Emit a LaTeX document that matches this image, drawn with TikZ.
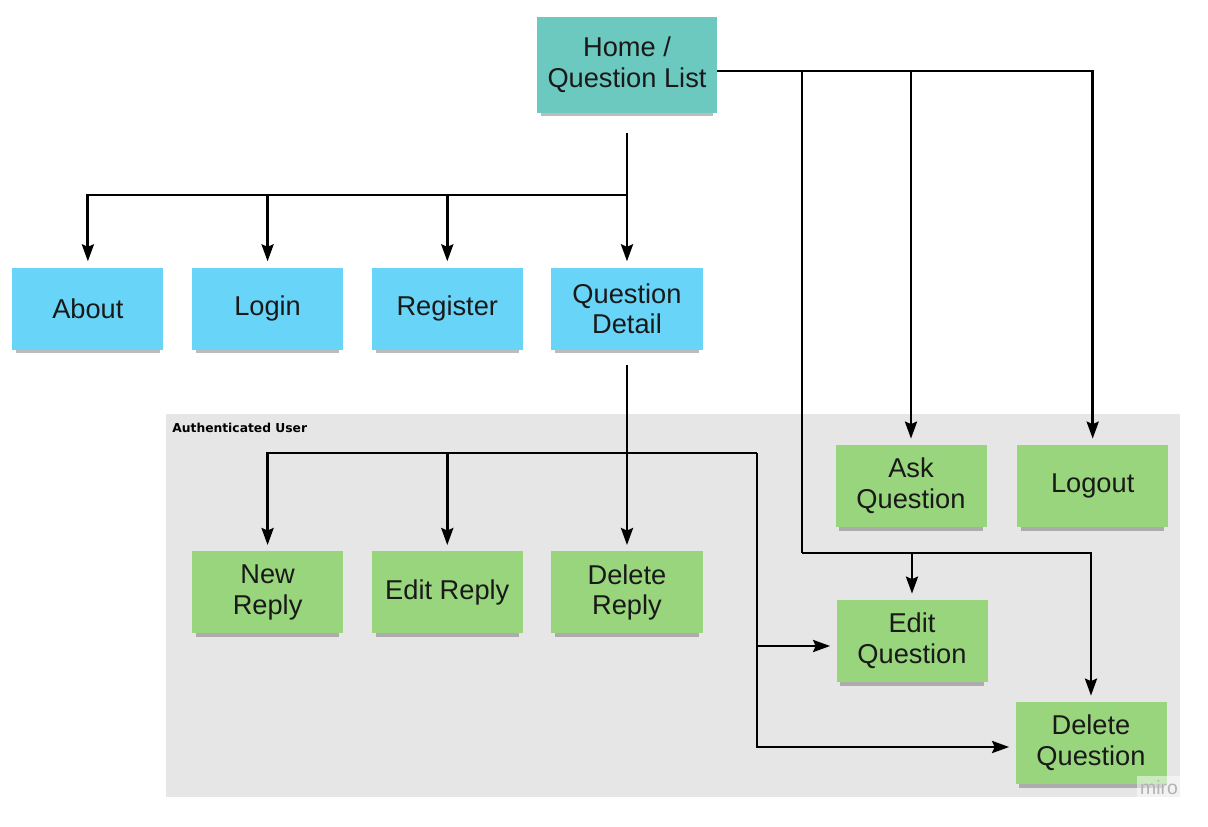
\documentclass[tikz,border=0pt]{standalone}
\usepackage{fontspec}
\setmainfont{Liberation Sans}
\newfontfamily\grpfont{DejaVu Sans}
\usepackage{xcolor}
\usepackage{tikz}
\usetikzlibrary{arrows.meta, positioning, shadows}

\definecolor{hometeal}{RGB}{108,201,192}
\definecolor{pageblue}{RGB}{104,213,248}
\definecolor{actgreen}{RGB}{152,213,124}
\definecolor{authgray}{RGB}{230,230,230}

\begin{document}
\begin{tikzpicture}[
    node distance=0.56cm and 0.56cm,
    note/.style={minimum width=3.02cm, minimum height=1.64cm, align=center, inner sep=2pt,
      text=black!90, font=\fontsize{15.5}{17.5}\selectfont,
      drop shadow={shadow xshift=0pt, shadow yshift=-0.12cm, shadow scale=0.95, fill=black!75, opacity=0.35}},
    page/.style={note, fill=pageblue},
    act/.style={note, fill=actgreen},
    line/.style={line width=1.6pt},
    arr/.style={line, -{Stealth[length=0.34cm, width=0.24cm, inset=0.05cm]}, shorten >=0.12cm},
  ]
    \useasboundingbox (-12.54,1.30) rectangle (11.62,-15.24);

    % authenticated area
    \fill[authgray] (-9.22,-6.98) rectangle (11.06,-14.64);
    \node[anchor=north west, inner sep=0pt, font=\grpfont\bfseries\fontsize{7}{8}\selectfont] (authlabel) at (-9.10,-7.15) {Authenticated User};

    \node[note, fill=hometeal, minimum width=3.6cm, minimum height=1.92cm] (home) at (0,0) {Home /\\Question List};
    \node[page, below=3.08cm of home] (detail) {Question\\Detail};
    \node[page, left=of detail] (register) {Register};
    \node[page, left=of register] (login) {Login};
    \node[page, left=of login] (about) {About};

    \node[act, below=4.02cm of detail] (delreply) {Delete\\Reply};
    \node[act, left=of delreply] (editreply) {Edit Reply};
    \node[act, left=of editreply] (newreply) {New\\Reply};

    \node[act] (askq) at (5.68,-8.42) {Ask\\Question};
    \node[act, right=0.6cm of askq] (logout) {Logout};
    \node[act] (editq) at (5.70,-11.52) {Edit\\Question};
    \node[act] (delq) at (9.28,-13.56) {Delete\\Question};

    \node[inner xsep=2pt, inner ysep=3pt, fill=white, fill opacity=0.5, text opacity=1, text=black!30,
      font=\fontsize{11}{11}\selectfont] (miro) at (10.64,-14.46) {miro};

    % home to public pages
    \coordinate (split) at (0,-2.6);
    \draw[line] ([yshift=-0.4cm]home.south) -- (split);
    \draw[arr] (split) -| (about);
    \draw[arr] (split) -| (login);
    \draw[arr] (split) -| (register);
    \draw[arr] (split) -- (detail);

    % home to question actions
    \coordinate (hsplit) at (3.5,-0.12);
    \coordinate (qcorner) at (3.5,-9.76);
    \draw[arr] ([yshift=-0.12cm]home.east) -| (logout);
    \draw[arr] (hsplit) -| (askq);
    \draw[line] (hsplit) -- (qcorner);
    \draw[arr] (qcorner) -| (editq);
    \draw[arr] (qcorner) -| (delq);

    % detail to reply actions
    \coordinate (rsplit) at (0,-7.76);
    \coordinate (rcorner) at (2.6,-7.76);
    \coordinate (eqin) at ([yshift=-0.1cm]editq.west);
    \draw[arr] ([yshift=-0.3cm]detail.south) -- (delreply);
    \draw[arr] (rsplit) -| (newreply);
    \draw[arr] (rsplit) -| (editreply);
    \draw[line] (rsplit) -- (rcorner);
    \draw[arr] (rcorner |- eqin) -- (eqin);
    \draw[arr] (rcorner) |- ([yshift=-0.08cm]delq.west);
  \end{tikzpicture}
\end{document}
